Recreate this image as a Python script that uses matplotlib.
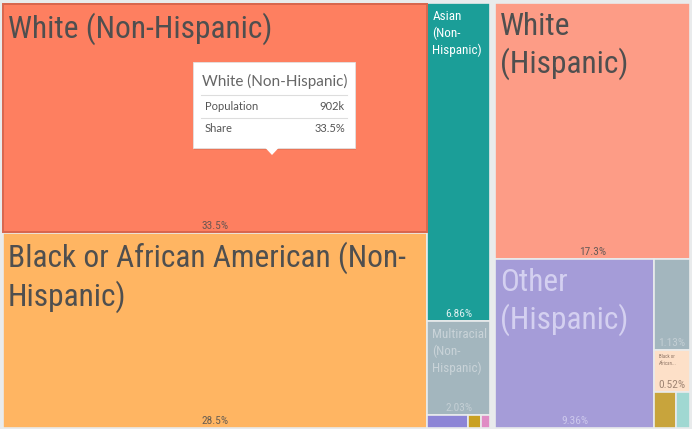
import matplotlib
matplotlib.use("Agg")
import matplotlib.pyplot as plt
from matplotlib import font_manager
from matplotlib.patches import Rectangle, Polygon

# data: share of population (%) by ethnicity group
groups = ["Non-Hispanic", "Hispanic"]
names_nh = ["White (Non-Hispanic)", "Black or African American (Non-Hispanic)", "Asian (Non-Hispanic)",
            "Multiracial (Non-Hispanic)", "Other (Non-Hispanic)", "American Indian (Non-Hispanic)",
            "Pacific Islander (Non-Hispanic)"]
share_nh = [33.5, 28.5, 6.86, 2.03, 0.18, 0.06, 0.04]
names_h = ["White (Hispanic)", "Other (Hispanic)", "Multiracial (Hispanic)",
           "Black or African American (Hispanic)", "American Indian (Hispanic)", "Asian (Hispanic)"]
share_h = [17.3, 9.36, 1.13, 0.52, 0.28, 0.17]

# wrapped labels as shown inside tiles (None = no label)
labels_nh = ["White (Non-Hispanic)", "Black or African American (Non-\nHispanic)", "Asian\n(Non-\nHispanic)",
             "Multiracial\n(Non-\nHispanic)", None, None, None]
labels_h = ["White\n(Hispanic)", "Other\n(Hispanic)", None, "Black or\nAfrican...", None, None]

colors_nh = ["#fe7f60", "#ffb562", "#1b9e98", "#a3b6be", "#8d85d6", "#c9a022", "#e08cc4"]
colors_h = ["#fd9c86", "#a59cd8", "#a3b6be", "#fde0c8", "#c8a43c", "#a0d8d2"]
text_nh = ["#4f4f4f", "#4f4f4f", "#ffffff", "#c9d3d8", None, None, None]
text_h = ["#4f4f4f", "#d4d0f0", "#c9d3d8", "#8f7565", None, None]

tip_title = "White (Non-Hispanic)"
tip_population = "902k"
tip_share = "33.5%"

BG = "#e9ebec"
W, H = 692, 429

avail = {f.name for f in font_manager.fontManager.ttflist}
cond = next((n for n in ["Liberation Sans Narrow", "Roboto Condensed", "Open Sans Condensed",
                         "DejaVu Sans Condensed"] if n in avail), None)
if cond is None:
    c = [f.name for f in font_manager.fontManager.ttflist if "condensed" in str(f.stretch)]
    cond = c[0] if c else "DejaVu Sans"


def worst(row, length):
    s = sum(row)
    return max(max(length ** 2 * r / s ** 2, s ** 2 / (length ** 2 * r)) for r in row)


def squarify(values, x, y, w, h, tol=1.25):
    total = sum(values)
    areas = [v * w * h / total for v in values]
    rects = []
    i = 0
    while i < len(areas):
        if i == len(areas) - 1:
            rects.append((x, y, w, h))
            break
        vertical = w >= 0.95 * h
        length = h if vertical else w
        row = [areas[i]]
        j = i + 1
        while j < len(areas) and worst(row + [areas[j]], length) <= worst(row, length) * tol:
            row.append(areas[j])
            j += 1
        s = sum(row)
        if vertical:
            cw = s / h
            yy = y
            for a in row:
                rects.append((x, yy, cw, a / cw))
                yy += a / cw
            x += cw
            w -= cw
        else:
            rh = s / w
            xx = x
            for a in row:
                rects.append((xx, y, a / rh, rh))
                xx += a / rh
            y += rh
            h -= rh
        i = j
    return rects


fig = plt.figure(figsize=(6.92, 4.29), dpi=100, facecolor=BG)
ax = fig.add_axes([0, 0, 1, 1])
ax.set_xlim(0, W)
ax.set_ylim(H, 0)
ax.axis("off")
renderer = fig.canvas.get_renderer()


def fit_size(s, px, family):
    t = ax.text(0, 0, s, fontsize=10, family=family)
    wpx = t.get_window_extent(renderer).width
    t.remove()
    return 10 * px / wpx


big = fit_size("White (Non-Hispanic)", 264, cond)
mid = fit_size("Multiracial", 55, cond)
tiny = fit_size("Black o", 14, cond)
pct = fit_size("33.5%", 27, cond)

outer = squarify([sum(share_nh), sum(share_h)], 0, 0, W, H + 1)
pad = 2.5
for (gx, gy, gw, gh), names, vals, labs, cols, tcols in zip(
        outer, [names_nh, names_h], [share_nh, share_h], [labels_nh, labels_h],
        [colors_nh, colors_h], [text_nh, text_h]):
    rects = squarify(vals, gx + pad, gy + pad + 0.5, gw - 2 * pad, gh - 2 * pad)
    for k, ((x, y, w, h), v, lab, col, tc) in enumerate(zip(rects, vals, labs, cols, tcols)):
        rect = Rectangle((x, y), w, h, facecolor=col, edgecolor=BG, lw=1.2)
        ax.add_patch(rect)
        if lab is not None:
            if w > 120:
                size, off, ls = big, 9, 1.25
            elif w > 40:
                size, off, ls = mid, 7, 1.35
            else:
                size, off, ls = tiny, 4, 1.6
            t = ax.text(x + 5, y + off, lab, fontsize=size, family=cond, color=tc,
                        va="top", ha="left", linespacing=ls)
            t.set_clip_path(rect)
        if tc is not None:
            ps = pct if w > 30 else pct * 0.85
            t = ax.text(x + w / 2, y + h - 2, f"{v:.3g}%", fontsize=ps, family=cond,
                        color=tc, alpha=0.85, ha="center", va="bottom")
            t.set_clip_path(rect)

# highlighted tile border
x, y, w, h = squarify(share_nh, outer[0][0] + pad, outer[0][1] + pad + 0.5,
                      outer[0][2] - 2 * pad, outer[0][3] - 2 * pad)[0]
ax.add_patch(Rectangle((x + 0.7, y + 0.7), w - 1.4, h - 1.4, facecolor="none",
                       edgecolor="#d8654c", lw=1.4))

# tooltip
tx0, ty0, tx1, ty1 = 193, 62, 355, 148
ax.add_patch(Rectangle((tx0 + 1, ty0 + 1.5), tx1 - tx0, ty1 - ty0, facecolor="#000000",
                       alpha=0.08, edgecolor="none"))
ax.add_patch(Rectangle((tx0, ty0), tx1 - tx0, ty1 - ty0, facecolor="white", edgecolor="#e2e2e2", lw=0.6))
ax.add_patch(Polygon([(265, ty1 - 0.5), (279, ty1 - 0.5), (272, ty1 + 7)], closed=True,
                     facecolor="white", edgecolor="none"))
ax.text(202, 81, tip_title, fontsize=11, family="Lato", color="#666666", va="center")
ax.plot([201, 347], [95, 95], color="#dddddd", lw=0.8)
ax.text(205, 107, "Population", fontsize=8, family="Lato", color="#555555", va="center")
ax.text(345, 107, tip_population, fontsize=8, family="Lato", color="#555555", va="center", ha="right")
ax.plot([201, 347], [118, 118], color="#dddddd", lw=0.8)
ax.text(205, 129, "Share", fontsize=8, family="Lato", color="#555555", va="center")
ax.text(345, 129, tip_share, fontsize=8, family="Lato", color="#555555", va="center", ha="right")

fig.savefig("out.png", dpi=100, facecolor=BG)
